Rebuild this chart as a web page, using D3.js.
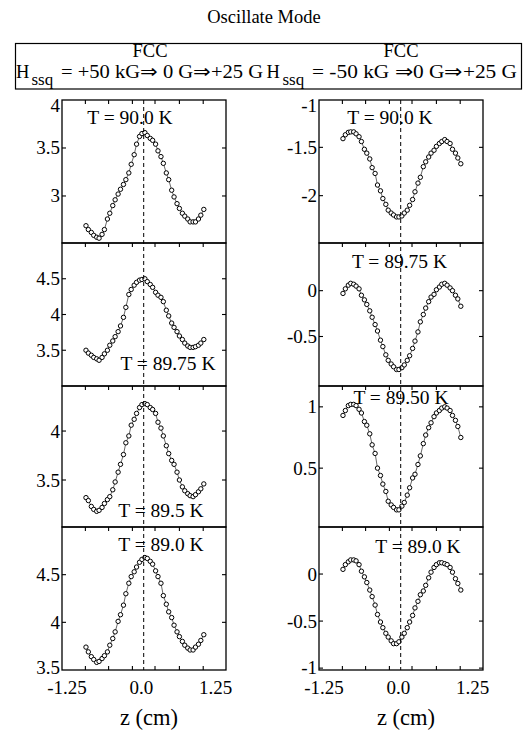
<!DOCTYPE html>
<html><head><meta charset="utf-8">
<script src="https://cdn.jsdelivr.net/npm/d3@7"></script>
<style>
body{margin:0;background:#fff}
svg{display:block}
text{font-family:"Liberation Serif","Times New Roman",Times,serif;fill:#000}
</style>
</head><body>
<svg id="chart" width="526" height="734"></svg>
<script>
// ---------- data ----------
const zValues = [-0.93,-0.89,-0.84,-0.80,-0.75,-0.71,-0.66,-0.62,-0.57,-0.53,-0.48,-0.44,-0.39,-0.35,-0.30,
  -0.26,-0.21,-0.17,-0.12,-0.08,-0.03,0.01,0.06,0.10,0.15,0.19,0.24,0.28,0.33,0.37,0.42,0.46,0.51,0.55,0.60,
  0.64,0.69,0.73,0.78,0.82,0.87,0.91,0.96,1.00,1.05];

const leftT900  = [2.69,2.65,2.62,2.59,2.57,2.56,2.60,2.65,2.76,2.82,2.90,2.96,3.02,3.07,3.12,3.17,3.24,3.33,3.43,3.54,3.62,3.65,3.66,3.63,3.60,3.58,3.54,3.47,3.41,3.34,3.24,3.17,3.06,2.99,2.92,2.87,2.82,2.79,2.76,2.73,2.73,2.73,2.76,2.80,2.86];
const leftT8975 = [3.50,3.46,3.43,3.40,3.38,3.36,3.40,3.45,3.50,3.57,3.63,3.69,3.76,3.84,3.96,4.10,4.28,4.35,4.41,4.45,4.48,4.49,4.50,4.46,4.42,4.38,4.31,4.27,4.24,4.18,4.06,3.98,3.88,3.82,3.76,3.70,3.65,3.60,3.56,3.54,3.54,3.55,3.57,3.60,3.65];
const leftT895  = [3.32,3.29,3.23,3.20,3.18,3.19,3.22,3.26,3.30,3.33,3.40,3.48,3.58,3.66,3.76,3.88,3.95,4.06,4.12,4.18,4.24,4.27,4.28,4.27,4.24,4.22,4.18,4.09,4.03,3.95,3.85,3.77,3.70,3.66,3.58,3.50,3.43,3.39,3.36,3.34,3.33,3.35,3.38,3.41,3.46];
const leftT890  = [3.74,3.69,3.64,3.61,3.58,3.59,3.62,3.65,3.69,3.76,3.83,3.90,4.01,4.08,4.18,4.30,4.41,4.48,4.53,4.58,4.63,4.66,4.68,4.67,4.64,4.61,4.54,4.48,4.41,4.28,4.19,4.11,4.05,3.97,3.90,3.85,3.80,3.76,3.73,3.71,3.71,3.74,3.77,3.81,3.87];

const rightT900  = [-1.41,-1.37,-1.345,-1.34,-1.34,-1.36,-1.39,-1.44,-1.52,-1.56,-1.62,-1.71,-1.77,-1.89,-1.95,-2.03,-2.09,-2.15,-2.18,-2.20,-2.22,-2.22,-2.21,-2.18,-2.15,-2.10,-2.04,-1.96,-1.87,-1.81,-1.70,-1.65,-1.60,-1.56,-1.53,-1.49,-1.46,-1.44,-1.42,-1.44,-1.46,-1.52,-1.56,-1.61,-1.67];
const rightT8975 = [-0.03,0.02,0.06,0.08,0.07,0.05,0.02,-0.05,-0.10,-0.15,-0.22,-0.29,-0.37,-0.44,-0.54,-0.61,-0.70,-0.76,-0.80,-0.83,-0.86,-0.86,-0.84,-0.81,-0.76,-0.71,-0.63,-0.55,-0.45,-0.34,-0.26,-0.19,-0.12,-0.07,-0.04,0.01,0.04,0.07,0.08,0.06,0.03,0.00,-0.05,-0.09,-0.17];
const rightT8950 = [0.93,0.97,1.01,1.02,1.02,1.01,0.98,0.95,0.88,0.85,0.78,0.69,0.62,0.50,0.44,0.37,0.31,0.23,0.20,0.18,0.16,0.16,0.19,0.22,0.28,0.34,0.42,0.45,0.53,0.60,0.70,0.77,0.83,0.87,0.92,0.95,0.97,0.99,1.00,0.99,0.97,0.93,0.89,0.84,0.75];
const rightT890  = [0.05,0.10,0.13,0.15,0.15,0.14,0.10,0.03,-0.03,-0.09,-0.17,-0.24,-0.33,-0.43,-0.51,-0.57,-0.63,-0.67,-0.71,-0.74,-0.74,-0.72,-0.67,-0.63,-0.57,-0.51,-0.44,-0.36,-0.29,-0.22,-0.18,-0.12,-0.04,0.02,0.07,0.10,0.12,0.12,0.11,0.10,0.07,0.02,-0.05,-0.10,-0.17];

const leftLabels  = ["T = 90.0 K","T = 89.75 K","T = 89.5 K","T = 89.0 K"];
const rightLabels = ["T = 90.0 K","T = 89.75 K","T = 89.50 K","T = 89.0 K"];

const leftYDomains  = [[2.51,4.0],[3.0,5.0],[3.02,4.46],[3.5,5.0]];
const rightYDomains = [[-2.49,-1.01],[-1.04,0.52],[0.02,1.17],[-1.02,0.5]];
const leftYTicks  = [[3,3.5,4],[3.5,4,4.5],[3.5,4],[3.5,4,4.5]];
const rightYTicks = [[-2,-1.5,-1],[-0.5,0],[0.5,1],[-1,-0.5,0]];

const xDomain = [-1.333,1.423];
const xTickValues = [-1.25,0,1.25];
const xTickText = ["-1.25","0.0","1.25"];
const xMinorTicks = [-0.94,-0.55,-0.15,0.23,0.64,1.04];
const centerLine = 0.04;

const title = "Oscillate Mode";
const headerTop = ["FCC","FCC"];
const headerField = ["= +50 kG\u21D2 0 G\u21D2+25 G","= -50 kG \u21D20 G\u21D2+25 G"];
const xTitle = "z (cm)";

// ---------- layout ----------
const svg = d3.select("#chart");
const colX = [[62,226],[319,483]];
const rowY = [100,243,386,527,670];
const labelPos = [
  [[130,124],[168,370],[161,517],[161,551]],
  [[390,124],[399.5,268],[401,404],[418,552.5]]
];
const columns = [
  {series:[leftT900,leftT8975,leftT895,leftT890], labels:leftLabels, domains:leftYDomains, ticks:leftYTicks},
  {series:[rightT900,rightT8975,rightT8950,rightT890], labels:rightLabels, domains:rightYDomains, ticks:rightYTicks}
];

// title + header box
svg.append("text").attr("x",264).attr("y",23).attr("text-anchor","middle")
  .style("font-size","18.5px").text(title);
svg.append("rect").attr("x",15.5).attr("y",43.5).attr("width",506).attr("height",45.5)
  .attr("fill","none").attr("stroke","#000").attr("stroke-width",1.2);
const hdr = [{fcc:150, hx:16, subx:31.5, restx:61, restw:202},
             {fcc:401, hx:266.5, subx:282.5, restx:312, restw:205}];
hdr.forEach((h,i)=>{
  svg.append("text").attr("x",h.fcc).attr("y",57).attr("text-anchor","middle")
    .style("font-size","18.5px").text(headerTop[i]);
  svg.append("text").attr("x",h.hx).attr("y",78).style("font-size","18.5px").text("H");
  svg.append("text").attr("x",h.subx).attr("y",85).style("font-size","17px").text("ssq");
  svg.append("text").attr("x",h.restx).attr("y",78).style("font-size","18.5px")
    .attr("textLength",h.restw).attr("lengthAdjust","spacingAndGlyphs").text(headerField[i]);
});

columns.forEach((col,ci)=>{
  const [x0,x1] = colX[ci];
  const xs = d3.scaleLinear().domain(xDomain).range([x0,x1]);
  col.series.forEach((vals,ri)=>{
    const top = rowY[ri], bot = rowY[ri+1];
    const ys = d3.scaleLinear().domain(col.domains[ri]).range([bot,top]);
    const g = svg.append("g");
    // frame
    g.append("rect").attr("x",x0).attr("y",top).attr("width",x1-x0).attr("height",bot-top)
      .attr("fill","none").attr("stroke","#000").attr("stroke-width",1.3);
    // y ticks both sides
    col.ticks[ri].forEach(v=>{
      const y = ys(v);
      if (y > top+1 && y < bot-1) {
        g.append("line").attr("x1",x0).attr("x2",x0+4).attr("y1",y).attr("y2",y).attr("stroke","#000").attr("stroke-width",1.1);
        g.append("line").attr("x1",x1-4).attr("x2",x1).attr("y1",y).attr("y2",y).attr("stroke","#000").attr("stroke-width",1.1);
      }
      const ly = Math.max(top+5, Math.min(bot-3, y));
      g.append("text").attr("x",x0-2).attr("y",ly+6.5).attr("text-anchor","end")
        .style("font-size","19px").text(String(v));
    });
    // top x ticks (inward)
    xMinorTicks.forEach(t=>{
      g.append("line").attr("x1",xs(t)).attr("x2",xs(t)).attr("y1",top).attr("y2",top+4)
        .attr("stroke","#000").attr("stroke-width",1.1);
      if (ri===3) g.append("line").attr("x1",xs(t)).attr("x2",xs(t)).attr("y1",bot-4).attr("y2",bot)
        .attr("stroke","#000").attr("stroke-width",1.1);
    });
    // temperature label
    const lp = labelPos[ci][ri];
    g.append("text").attr("x",lp[0]).attr("y",lp[1]).attr("text-anchor","middle")
      .style("font-size","19.5px").text(col.labels[ri]);
    // data line + markers
    const pts = zValues.map((z,k)=>[z,vals[k]]);
    g.append("path").datum(pts)
      .attr("d", d3.line().x(d=>xs(d[0])).y(d=>ys(d[1])))
      .attr("fill","none").attr("stroke","#000").attr("stroke-width",0.6);
    g.selectAll("circle").data(pts).join("circle")
      .attr("cx",d=>xs(d[0])).attr("cy",d=>ys(d[1])).attr("r",2.2)
      .attr("fill","#fff").attr("stroke","#000").attr("stroke-width",1);
  });
  // dashed centre line
  svg.append("line").attr("x1",xs(centerLine)).attr("x2",xs(centerLine))
    .attr("y1",rowY[0]).attr("y2",rowY[4]).attr("stroke","#000").attr("stroke-width",1)
    .attr("stroke-dasharray","4,3");
  // x tick labels
  xTickValues.forEach((v,k)=>{
    svg.append("text").attr("x",xs(v)).attr("y",694).attr("text-anchor","middle")
      .style("font-size","19px").text(xTickText[k]);
  });
  svg.append("text").attr("x",(x0+x1)/2 + 5).attr("y",725).attr("text-anchor","middle")
    .style("font-size","22.5px").text(xTitle);
});
</script>
</body></html>
